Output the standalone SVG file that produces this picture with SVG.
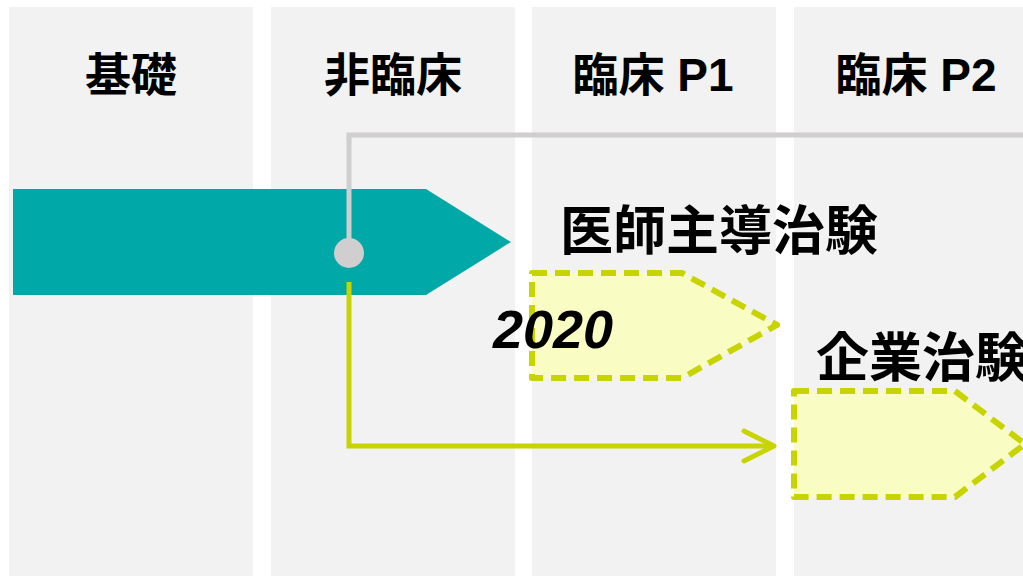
<svg xmlns="http://www.w3.org/2000/svg" width="1023" height="577" viewBox="0 0 1023 577">
<defs>
<style>
.col{fill:#F2F2F2}
.hdr{font-family:"Liberation Sans","Noto Sans CJK JP",sans-serif;font-weight:bold;font-size:46px;fill:#000;text-anchor:middle}
.lbl{font-family:"Noto Sans CJK JP","Liberation Sans",sans-serif;font-weight:bold;font-size:53px;fill:#000}
.dash{fill:#F9FDC4;stroke:#C8D400;stroke-width:6;stroke-dasharray:15 8;stroke-linejoin:round}
</style>
</defs>
<rect width="1023" height="577" fill="#FFFFFF"/>
<g id="columns">
<rect class="col" x="9" y="7" width="244" height="569"/>
<rect class="col" x="271" y="7" width="244" height="569"/>
<rect class="col" x="532" y="7" width="244" height="569"/>
<rect class="col" x="794" y="7" width="244" height="569"/>
<text class="hdr" x="131" y="91">基礎</text>
<text class="hdr" x="393" y="91">非臨床</text>
<text class="hdr" x="653" y="91">臨床 P1</text>
<text class="hdr" x="916" y="91">臨床 P2</text>
</g>
<g id="basic-bar">
<polygon points="13,189 426,189 511,242 426,295 13,295" fill="#00A8A8"/>
</g>
<g id="connectors">
<polyline points="349,253 349,135 1023,135" fill="none" stroke="#D0CECF" stroke-width="5"/>
<circle cx="349" cy="253" r="15" fill="#D0CECF"/>
<polyline points="349,282 349,446 773,446" fill="none" stroke="#C8D400" stroke-width="5"/>
<polyline points="744,431 774,446 744,461" fill="none" stroke="#C8D400" stroke-width="5" stroke-linecap="round" stroke-linejoin="round"/>
</g>
<g id="investigator-trial">
<polygon class="dash" points="532,273 682,273 777,325 682,378 532,378"/>
<text class="lbl" x="560" y="250">医師主導治験</text>
<text x="493" y="348" font-family="Liberation Sans, sans-serif" font-weight="bold" font-style="italic" font-size="54" fill="#000">2020</text>
</g>
<g id="company-trial">
<polygon class="dash" points="794,391 955,391 1025,444 955,497 794,497"/>
<text class="lbl" x="816" y="377">企業治験</text>
</g>
</svg>
